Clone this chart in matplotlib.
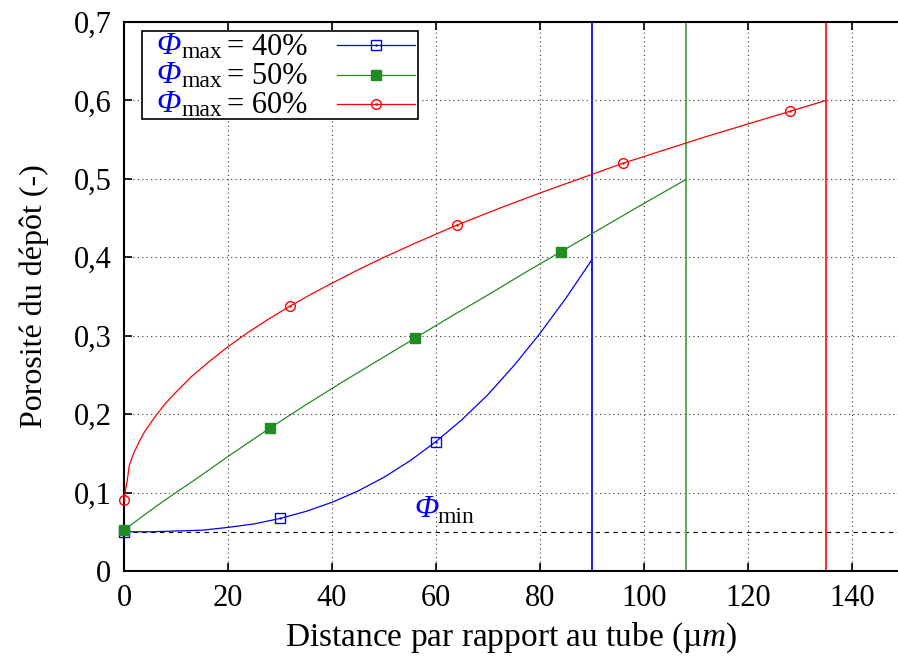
import matplotlib
matplotlib.use('Agg')
import matplotlib.pyplot as plt
from matplotlib.lines import Line2D
from matplotlib.patches import Rectangle

plt.rcParams['font.family'] = ['Liberation Serif', 'DejaVu Serif']
plt.rcParams['mathtext.fontset'] = 'custom'
plt.rcParams['mathtext.rm'] = 'Liberation Serif'
plt.rcParams['mathtext.it'] = 'Liberation Serif:italic'

# Phi_max = 40 %
x_40 = [0, 5, 10, 15, 20, 25, 30, 35, 40, 45, 50, 55, 60, 65, 70, 75, 80, 85, 90]
y_40 = [0.050, 0.050, 0.051, 0.052, 0.0556, 0.060, 0.067, 0.076, 0.0876, 0.102,
        0.1195, 0.1405, 0.165, 0.193, 0.225, 0.262, 0.303, 0.348, 0.397]
marks_40 = [0, 30, 60]

# Phi_max = 50 %
x_50 = [0, 4, 8, 14, 20, 28, 35, 42, 49, 56, 63, 70, 77, 84, 91, 98, 108]
y_50 = [0.052, 0.072, 0.091, 0.118, 0.146, 0.182, 0.212, 0.241, 0.269, 0.297,
        0.325, 0.352, 0.380, 0.407, 0.434, 0.461, 0.499]
marks_50 = [0, 28, 56, 84]

# Phi_max = 60 %
x_60 = [0, 0.3, 0.6, 1, 1.5, 2, 3, 4, 6, 8, 10, 13, 16, 20, 24, 28, 32, 36, 40,
        45, 50, 56, 64, 72, 80, 88, 96, 104, 112, 120, 128, 135]
y_60 = [0.090, 0.104, 0.114, 0.134, 0.144, 0.152, 0.166, 0.178, 0.197, 0.214,
        0.228, 0.248, 0.265, 0.286, 0.305, 0.322, 0.338, 0.353, 0.367, 0.384,
        0.400, 0.418, 0.441, 0.462, 0.482, 0.501, 0.520, 0.537, 0.554, 0.570,
        0.586, 0.600]
marks_60 = [0, 32, 64, 96, 128]

# epaisseur max du depot pour chaque cas
x_end = [90, 108, 135]
phi_min = 0.05

labels = ['40%', '50%', '60%']
colors = ['#0000ff', '#228b22', '#ff0000']
vline_colors = ['#1a1aff', '#5da85d', '#ff2a2a']

x_ticks = [0, 20, 40, 60, 80, 100, 120, 140]
y_ticks = [0, 0.1, 0.2, 0.3, 0.4, 0.5, 0.6, 0.7]
y_tick_labels = ['0', '0,1', '0,2', '0,3', '0,4', '0,5', '0,6', '0,7']

W, H = 898, 663


def fx(px):
    return px / W


def fy(py):
    return 1 - py / H


fig = plt.figure(figsize=(W / 100, H / 100), dpi=100)
ax = fig.add_axes([fx(124), fy(571), (898 - 124) / W, (571 - 22) / H])

series = [(x_40, y_40, marks_40, 's', 'none'),
          (x_50, y_50, marks_50, 's', colors[1]),
          (x_60, y_60, marks_60, 'o', 'none')]

for (xs, ys, mk, m, fc), c in zip(series, colors):
    idx = [xs.index(v) for v in mk]
    ax.plot(xs, ys, color=c, lw=0.9, marker=m, markevery=idx, ms=7,
            mfc=fc, mec=c, mew=1.0, clip_on=False, zorder=3)
    if fc == 'none':
        ax.plot([xs[i] for i in idx], [ys[i] for i in idx], ls='none',
                marker='.', ms=1.5, color=c, clip_on=False, zorder=3)

for xv, c in zip(x_end, vline_colors):
    ax.axvline(xv, color=c, lw=1.4, zorder=2)

ax.axhline(phi_min, color='black', lw=0.8, ls=(0, (4, 4)), zorder=1)

ax.set_xlim(0, 774 / 5.2)
ax.set_ylim(0, 0.7)
ax.set_xticks(x_ticks)
ax.set_yticks(y_ticks)
ax.set_yticklabels(y_tick_labels)
ax.grid(True, color='#333333', lw=0.8, ls=(0, (1, 3)))
ax.set_axisbelow(True)
ax.tick_params(direction='in', length=6, width=1.2, top=True, labelsize=22,
               pad=9)
ax.spines['right'].set_visible(False)
for s in ['left', 'bottom', 'top']:
    ax.spines[s].set_linewidth(1.5)

ax.set_xlabel(r'Distance par rapport au tube (µ$\mathit{m}$)', fontsize=24,
              labelpad=6)
ax.set_ylabel('Porosité du dépôt (-)', fontsize=23, labelpad=18)

# Phi_min
fig.text(fx(414), fy(517), 'Φ', color='blue', style='italic', fontsize=23)
fig.text(fx(437), fy(523), 'min', color='black', fontsize=17)

# legende (style gnuplot)
fig.add_artist(Rectangle((fx(142), fy(119)), (418 - 142) / W, (119 - 31) / H,
                         transform=fig.transFigure, fc='white', ec='black',
                         lw=1.2, zorder=5))
for i, ((xs, ys, mk, m, fc), c, lab) in enumerate(zip(series, colors, labels)):
    base = 54 + 29 * i
    fig.text(fx(156), fy(base), 'Φ', color='blue', style='italic',
             fontsize=23, zorder=6)
    fig.text(fx(181), fy(base + 4), 'max', color='black', fontsize=17,
             zorder=6)
    fig.text(fx(227), fy(base + 1), '= ' + lab, color='black', fontsize=22,
             zorder=6)
    yl = fy(45 + 29.5 * i)
    fig.add_artist(Line2D([fx(337), fx(415)], [yl, yl], color=c, lw=0.9,
                          transform=fig.transFigure, zorder=6))
    fig.add_artist(Line2D([fx(376)], [yl], marker=m, ms=7, mfc=fc, mec=c,
                          mew=1.0, transform=fig.transFigure, zorder=7))
    if fc == 'none':
        fig.add_artist(Line2D([fx(376)], [yl], marker='.', ms=1.5, color=c,
                              transform=fig.transFigure, zorder=7))

fig.savefig('out.png', dpi=100)
